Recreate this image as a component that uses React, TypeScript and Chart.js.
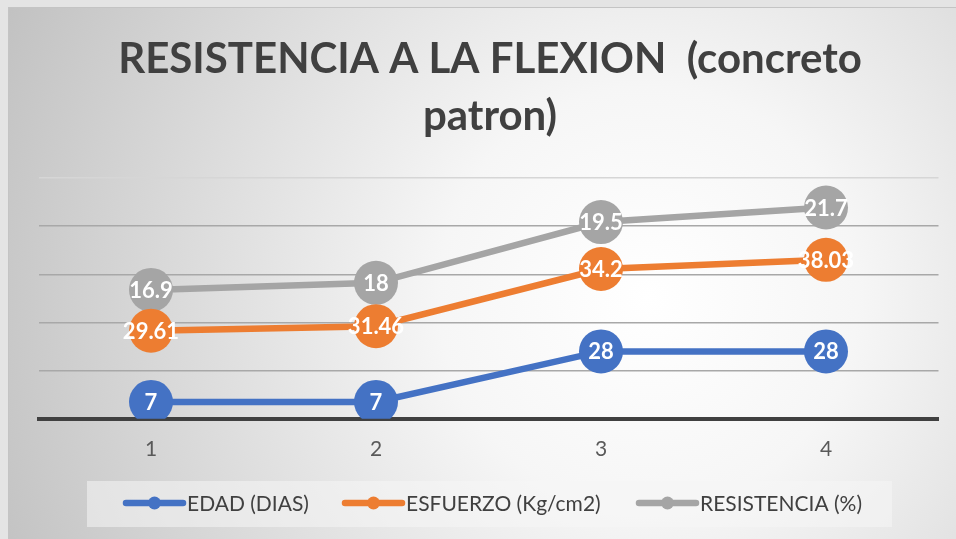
import React, { useEffect, useRef } from "react";
import { Chart, registerables } from "chart.js";

Chart.register(...registerables);

const categories = ["1", "2", "3", "4"];
const edadDias = [7, 7, 28, 28];
const esfuerzo = [29.61, 31.46, 34.2, 38.03];
const resistencia = [16.9, 18, 19.5, 21.7];
const seriesNames = ["EDAD (DIAS)", "ESFUERZO (Kg/cm2)", "RESISTENCIA (%)"];
const seriesColors = ["#4472C4", "#ED7D31", "#A5A5A5"];
const titleLines = ["RESISTENCIA A LA FLEXION  (concreto", "patron)"];
const yMin = 0;
const yMax = 100;
const yStep = 20;

const W = 948;
const H = 532;

const bgPlugin = {
  id: "bgPlugin",
  beforeDraw(chart: any) {
    const ctx = chart.ctx;
    ctx.save();
    const g = ctx.createRadialGradient(640, 290, 0, 640, 290, 700);
    g.addColorStop(0, "#ffffff");
    g.addColorStop(0.3, "#f6f6f6");
    g.addColorStop(1, "#c2c2c2");
    ctx.fillStyle = g;
    ctx.fillRect(0, 0, chart.width, chart.height);
    ctx.strokeStyle = "#c4c4c4";
    ctx.lineWidth = 1;
    ctx.strokeRect(0.5, 0.5, chart.width, chart.height);
    ctx.restore();
  },
};

const decorPlugin = {
  id: "decorPlugin",
  afterDraw(chart: any) {
    const ctx = chart.ctx;
    ctx.save();
    // title
    ctx.fillStyle = "#404040";
    ctx.textAlign = "center";
    ctx.textBaseline = "alphabetic";
    ctx.font = "bold 42px Lato";
    ctx.fillText(titleLines[0], 482, 66);
    ctx.fillText(titleLines[1], 482, 123);

    // legend box
    ctx.fillStyle = "rgba(245,245,245,0.55)";
    ctx.fillRect(79, 474, 805, 46);
    const starts = [118, 337, 631];
    const ly = 496;
    seriesNames.forEach((name, i) => {
      const x0 = starts[i];
      ctx.strokeStyle = seriesColors[i];
      ctx.lineWidth = 6.5;
      ctx.lineCap = "round";
      ctx.beginPath();
      ctx.moveTo(x0, ly);
      ctx.lineTo(x0 + 57, ly);
      ctx.stroke();
      ctx.fillStyle = seriesColors[i];
      ctx.beginPath();
      ctx.arc(x0 + 28.5, ly, 6.5, 0, Math.PI * 2);
      ctx.fill();
      ctx.fillStyle = "#404040";
      ctx.textAlign = "left";
      ctx.textBaseline = "middle";
      ctx.font = "21px Lato";
      ctx.fillText(name, x0 + 61, ly + 1);
    });
    ctx.restore();
  },
  afterDatasetsDraw(chart: any) {
    const ctx = chart.ctx;
    ctx.save();
    ctx.fillStyle = "#ffffff";
    ctx.textAlign = "center";
    ctx.textBaseline = "middle";
    ctx.font = "bold 22px Lato";
    chart.data.datasets.forEach((ds: any, di: number) => {
      const meta = chart.getDatasetMeta(di);
      meta.data.forEach((pt: any, i: number) => {
        ctx.fillText(String(ds.data[i]), pt.x, pt.y + 1);
      });
    });
    ctx.restore();
  },
};

export default function App() {
  const ref = useRef<HTMLCanvasElement | null>(null);
  useEffect(() => {
    document.body.style.background = "#e4e4e4";
    const canvas = ref.current!;
    const mk = (label: string, data: number[], color: string) => ({
      label,
      data,
      borderColor: color,
      backgroundColor: color,
      borderWidth: 6.5,
      pointRadius: 22,
      pointHoverRadius: 22,
      pointBorderWidth: 0,
      pointBackgroundColor: color,
      fill: false,
      tension: 0,
    });
    const chart = new Chart(canvas, {
      type: "line",
      data: {
        labels: categories,
        datasets: [
          mk(seriesNames[0], edadDias, seriesColors[0]),
          mk(seriesNames[1], esfuerzo, seriesColors[1]),
          mk(seriesNames[2], resistencia, seriesColors[2]),
        ],
      },
      options: {
        responsive: false,
        animation: false,
        devicePixelRatio: 1,
        layout: {
          autoPadding: false,
          padding: { top: 171, left: 30.5, right: 17.5, bottom: 59 },
        },
        plugins: {
          legend: { display: false },
          title: { display: false },
          tooltip: { enabled: false },
        },
        scales: {
          x: {
            offset: true,
            afterFit: (scale: any) => {
              scale.paddingLeft = 0;
              scale.paddingRight = 0;
            },
            grid: { display: false, drawTicks: false, offset: true },
            border: { display: true, color: "#404040", width: 4 },
            ticks: {
              color: "#595959",
              font: { family: "Lato", size: 21 },
              padding: 18,
            },
          },
          y: {
            stacked: true,
            min: yMin,
            max: yMax,
            ticks: { display: false, stepSize: yStep },
            border: { display: false },
            grid: {
              drawTicks: false,
              color: (c: any) =>
                c.tick && c.tick.value === yMin
                  ? "rgba(0,0,0,0)"
                  : c.tick && c.tick.value === yMax
                  ? "#d6d6d6"
                  : "#a8a8a8",
              lineWidth: 1.5,
            },
          },
        },
      } as any,
      plugins: [bgPlugin, decorPlugin],
    });
    return () => chart.destroy();
  }, []);
  return (
    <div style={{ position: "fixed", left: 8, top: 7, width: W, height: H }}>
      <canvas ref={ref} width={W} height={H} style={{ display: "block", width: W, height: H }} />
    </div>
  );
}
